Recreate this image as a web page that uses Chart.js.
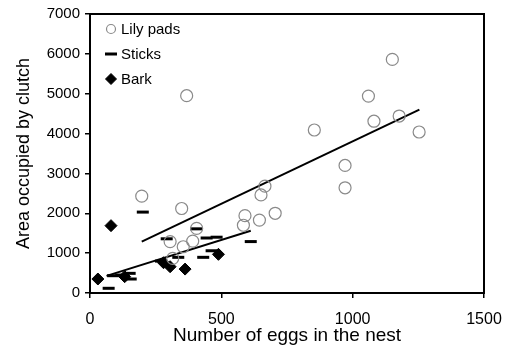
<!DOCTYPE html>
<html>
<head>
<meta charset="utf-8">
<script src="https://cdn.jsdelivr.net/npm/chart.js@4/dist/chart.umd.min.js"></script>
<style>
  html, body { margin: 0; padding: 0; background: #fff; }
  #wrap { width: 506px; height: 349px; }
</style>
</head>
<body>
<div id="wrap"><canvas id="chart" width="506" height="349"></canvas></div>
<script>
// clutch area vs. number of eggs, by nest substrate
const lilyEggs = [197, 349, 368, 406, 305, 355, 391, 315, 590, 584, 645, 651, 666, 705, 854, 971, 971, 1060, 1081, 1151, 1177, 1253];
const lilyArea = [2430, 2120, 4950, 1620, 1290, 1160, 1300, 870, 1940, 1700, 1830, 2460, 2680, 2000, 4090, 3200, 2640, 4940, 4310, 5860, 4440, 4040];

const stickEggs = [71, 88, 119, 151, 155, 201, 270, 292, 336, 404, 431, 444, 463, 482, 612];
const stickArea = [118, 434, 451, 493, 351, 2030, 800, 1360, 895, 1610, 895, 1380, 1060, 1400, 1290];

const barkEggs = [30, 80, 132, 280, 305, 362, 489];
const barkArea = [351, 1690, 410, 760, 659, 600, 970];

// fitted trend lines (end points)
const lilyFitEggs = [197, 1254];
const lilyFitArea = [1290, 4600];
const stickFitEggs = [63, 612];
const stickFitArea = [430, 1560];

const xTicks = [0, 500, 1000, 1500];
const yTicks = [0, 1000, 2000, 3000, 4000, 5000, 6000, 7000];

const toPoints = (xs, ys) => xs.map((x, i) => ({ x: x, y: ys[i] }));

const FONT = "'Liberation Sans', Arial, sans-serif";

// box around the plot area (top and right edges)
const frame = {
  id: "frame",
  afterDraw(chart) {
    const { ctx, chartArea: a } = chart;
    ctx.save();
    ctx.strokeStyle = "#000";
    ctx.lineWidth = 2;
    ctx.strokeRect(a.left, a.top, a.right - a.left, a.bottom - a.top);
    ctx.restore();
  }
};

// small legend in the upper left corner of the plot
const cornerLegend = {
  id: "cornerLegend",
  afterDraw(chart) {
    const { ctx, chartArea: a } = chart;
    const items = chart.data.datasets.filter(d => d.inLegend);
    ctx.save();
    ctx.font = "15px " + FONT;
    ctx.textBaseline = "middle";
    items.forEach((d, i) => {
      const cx = a.left + 21;
      const cy = a.top + 15 + i * 25;
      ctx.strokeStyle = d.borderColor;
      ctx.fillStyle = d.backgroundColor;
      ctx.lineWidth = d.borderWidth;
      Chart.helpers.drawPoint(ctx, {
        pointStyle: d.pointStyle,
        radius: d.legendRadius,
        borderWidth: d.borderWidth
      }, cx, cy);
      ctx.fillStyle = "#000";
      ctx.fillText(d.label, cx + 10, cy + 1);
    });
    ctx.restore();
  }
};

new Chart(document.getElementById("chart").getContext("2d"), {
  type: "scatter",
  data: {
    datasets: [
      {
        label: "Lily pads",
        inLegend: true,
        legendRadius: 4.5,
        data: toPoints(lilyEggs, lilyArea),
        pointStyle: "circle",
        pointRadius: 6,
        borderColor: "#8a8a8a",
        backgroundColor: "rgba(255,255,255,0)",
        borderWidth: 1.2
      },
      {
        label: "Sticks",
        inLegend: true,
        legendRadius: 6,
        data: toPoints(stickEggs, stickArea),
        pointStyle: "line",
        pointRadius: 6,
        borderColor: "#000",
        backgroundColor: "#000",
        borderWidth: 3
      },
      {
        label: "Bark",
        inLegend: true,
        legendRadius: 5.5,
        data: toPoints(barkEggs, barkArea),
        pointStyle: "rectRot",
        pointRadius: 6,
        borderColor: "#000",
        backgroundColor: "#000",
        borderWidth: 1
      },
      {
        label: "Lily fit",
        type: "line",
        data: toPoints(lilyFitEggs, lilyFitArea),
        borderColor: "#000",
        borderWidth: 2,
        pointRadius: 0
      },
      {
        label: "Stick fit",
        type: "line",
        data: toPoints(stickFitEggs, stickFitArea),
        borderColor: "#000",
        borderWidth: 2,
        pointRadius: 0
      }
    ]
  },
  options: {
    responsive: false,
    animation: false,
    layout: { padding: { left: 0, top: 14, right: 22, bottom: 0 } },
    plugins: {
      legend: { display: false },
      tooltip: { enabled: false }
    },
    scales: {
      x: {
        type: "linear",
        min: 0,
        max: 1500,
        afterBuildTicks: s => { s.ticks = xTicks.map(v => ({ value: v })); },
        afterFit: s => {
          s.height = 56;
          // labels fit inside the layout padding, no extra side padding
          s.paddingLeft = 0;
          s.paddingRight = 0;
        },
        border: { color: "#000", width: 2 },
        grid: { drawOnChartArea: false, color: "#000", lineWidth: 1.5, tickLength: 5 },
        ticks: {
          color: "#000",
          font: { family: FONT, size: 16 },
          padding: 12,
          callback: v => String(v)
        },
        title: {
          display: true,
          text: "Number of eggs in the nest",
          color: "#000",
          font: { family: FONT, size: 19 },
          padding: { top: 0, bottom: 2 }
        }
      },
      y: {
        type: "linear",
        min: 0,
        max: 7000,
        afterBuildTicks: s => { s.ticks = yTicks.map(v => ({ value: v })); },
        afterFit: s => { s.width = 90; },
        border: { color: "#000", width: 2 },
        grid: { drawOnChartArea: false, color: "#000", lineWidth: 1.5, tickLength: 5 },
        ticks: {
          color: "#000",
          font: { family: FONT, size: 15 },
          padding: 5,
          callback: v => String(v)
        },
        title: {
          display: true,
          text: "Area occupied by clutch",
          color: "#000",
          font: { family: FONT, size: 18 },
          padding: { top: 13, bottom: 4 }
        }
      }
    }
  },
  plugins: [frame, cornerLegend]
});
</script>
</body>
</html>
